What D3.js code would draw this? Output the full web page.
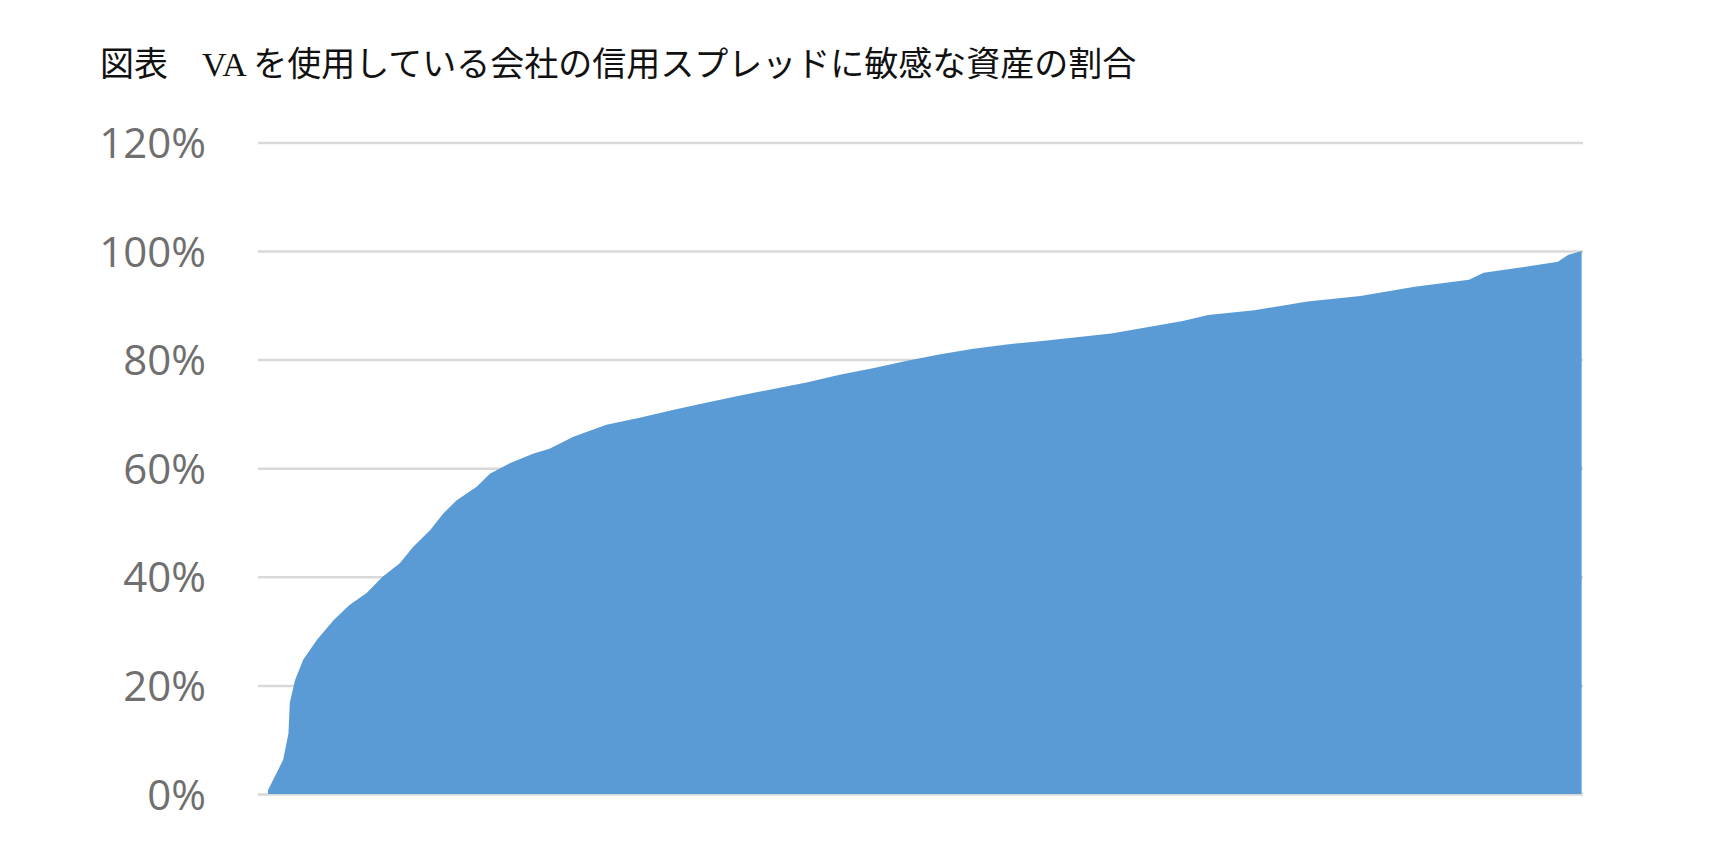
<!DOCTYPE html>
<html>
<head>
<meta charset="utf-8">
<script src="https://cdn.jsdelivr.net/npm/d3@7"></script>
<style>
  body { margin: 0; background: #fff; }
</style>
</head>
<body>
<div id="chart-area"></div>
<script>
const TITLE = "図表　VA を使用している会社の信用スプレッドに敏感な資産の割合";

// position of each company along the sorted list (% of companies)
const companyPos = [
  0.75, 1.9, 2.3, 2.4, 2.8, 3.4, 4.45, 5.7, 6.9, 8.2, 9.4, 10.7, 11.7, 13.0,
  14.0, 15.0, 16.5, 17.5, 19.0, 20.8, 22.0, 23.8, 26.3, 28.8, 31.3, 33.9,
  36.4, 38.9, 41.4, 43.9, 46.4, 49.0, 51.5, 54.0, 56.5, 59.0, 64.4, 69.8,
  71.7, 75.2, 79.2, 83.2, 87.3, 91.4, 92.5, 95.4, 98.1, 98.9, 99.9
];
// share of assets sensitive to credit spreads (%)
const sensitiveShare = [
  0.7, 6.3, 11.2, 16.8, 21, 24.7, 28.4, 32, 34.8, 37, 40, 42.5, 45.5, 48.6,
  51.7, 54.1, 56.6, 59, 60.9, 62.7, 63.6, 65.8, 68, 69.3, 70.7, 72.1,
  73.4, 74.6, 75.8, 77.2, 78.4, 79.8, 81, 82, 82.8, 83.4, 84.8, 87.1,
  88.2, 89.1, 90.7, 91.7, 93.4, 94.7, 96, 97, 98, 99.3, 100
];
const yTicks = [0, 20, 40, 60, 80, 100, 120];

const drawChart = () => {
  const WIDTH = 1712;
  const HEIGHT = 852;
  const LEFT = 258;
  const RIGHT = 1583;

  const points = companyPos.map((p, i) => ({ pos: p, share: sensitiveShare[i] }));

  const svg = d3.select("#chart-area")
    .append("svg")
    .attr("width", WIDTH)
    .attr("height", HEIGHT);

  svg.append("rect")
    .attr("width", WIDTH)
    .attr("height", HEIGHT)
    .attr("fill", "#fff");

  svg.append("text")
    .attr("x", 100)
    .attr("y", 76)
    .attr("font-family", "'Liberation Serif', 'Noto Sans CJK JP', serif")
    .attr("font-size", 34)
    .attr("fill", "#111")
    .text(TITLE);

  const x = d3.scaleLinear().domain([0, 100]).range([LEFT, RIGHT]);
  const y = d3.scaleLinear().domain([0, 120]).range([794, 142.4]);

  const yAxis = d3.axisLeft(y)
    .tickValues(yTicks)
    .tickFormat(d => d + "%")
    .tickSizeInner(-(RIGHT - LEFT))
    .tickSizeOuter(0)
    .tickPadding(52);

  const axisG = svg.append("g")
    .attr("transform", `translate(${LEFT},0)`)
    .call(yAxis);

  axisG.select(".domain").remove();
  axisG.selectAll(".tick line")
    .attr("stroke", "#d9d9d9")
    .attr("stroke-width", 2.5);
  axisG.selectAll(".tick text")
    .attr("font-family", "'Open Sans', sans-serif")
    .attr("font-size", 42)
    .attr("fill", "#6f6f6f")
    .attr("dy", "0.36em");

  const area = d3.area()
    .x(d => x(d.pos))
    .y0(y(0))
    .y1(d => y(d.share));

  svg.append("path")
    .datum(points)
    .attr("d", area)
    .attr("fill", "#5b9bd5");
};

window.onload = drawChart;
</script>
</body>
</html>
